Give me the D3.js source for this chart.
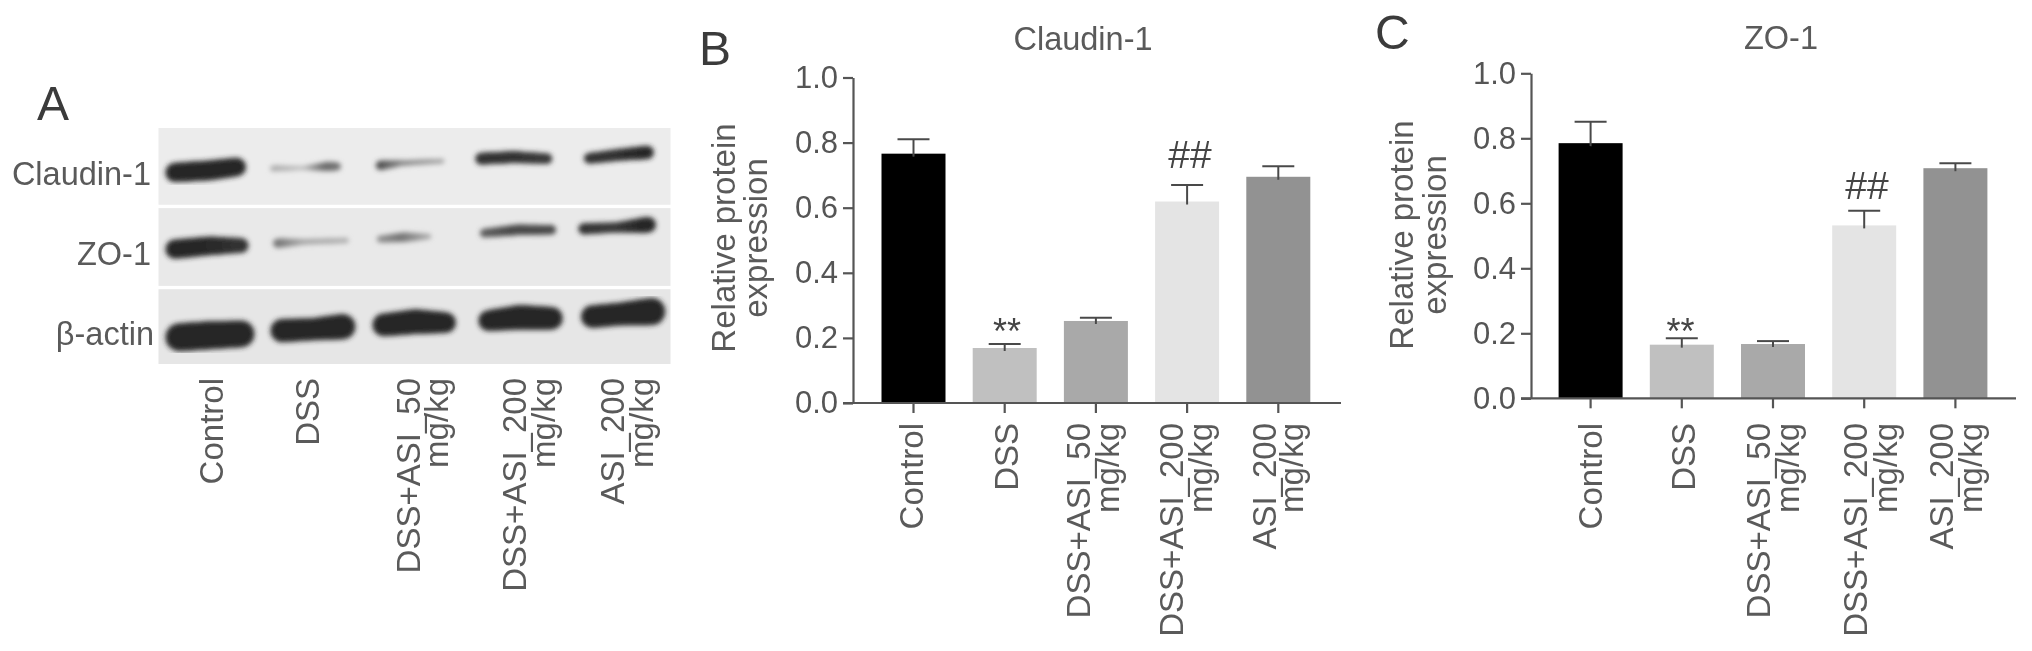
<!DOCTYPE html>
<html><head><meta charset="utf-8">
<script src="https://cdn.jsdelivr.net/npm/d3@7/dist/d3.min.js"></script>
<style>
html,body{margin:0;padding:0;background:#fff}
svg{display:block}
text{font-family:"Liberation Sans",Arial,sans-serif;fill:#5a5a5a}
</style></head><body><svg id="c" width="2032" height="651"></svg>
<script>
const categories=["Control","DSS","DSS+ASI_50|mg/kg","DSS+ASI_200|mg/kg","ASI_200|mg/kg"];
const barColors=["#000000","#c0c0c0","#a9a9a9","#e4e4e4","#929292"];
const yTicks=[0,0.2,0.4,0.6,0.8,1.0];
const claudinValues=[0.766,0.169,0.252,0.619,0.695];
const claudinUpper=[0.810,0.181,0.262,0.670,0.727];
const zoValues=[0.785,0.165,0.167,0.532,0.708];
const zoUpper=[0.851,0.185,0.176,0.577,0.723];
const claudinMarks=[null,"**",null,"##",null];
const zoMarks=[null,"**",null,"##",null];
const blotRows=["Claudin-1","ZO-1","β-actin"];
// blot bands: [lane position, row position, thickness, density]
const claudinBands=[
 [[392,338,58,.97],[470,332,60,.97],[530,322,56,.97]],
 [[612,326,18,.3],[680,325,10,.22],[735,320,28,.62],[755,320,22,.6]],
 [[852,317,28,.8],[900,310,16,.5],[990,304,14,.33]],
 [[1078,297,36,.92],[1150,292,36,.92],[1225,297,32,.88]],
 [[1320,296,32,.92],[1390,285,36,.92],[1450,278,40,.97]]];
const zoBands=[
 [[392,568,58,.97],[470,558,56,.97],[540,557,44,.92]],
 [[622,550,28,.6],[680,546,16,.33],[775,542,16,.28]],
 [[852,538,20,.42],[905,532,28,.58],[960,530,14,.33]],
 [[1085,520,26,.68],[1160,510,32,.8],[1235,510,28,.8]],
 [[1308,507,34,.92],[1380,503,30,.87],[1452,495,48,.97]]];
const actinBands=[
 [[402,832,84,.97],[470,826,84,.97],[540,822,80,.97]],
 [[632,812,70,.97],[700,808,66,.97],[768,800,76,.97]],
 [[860,795,68,.97],[930,785,74,.97],[998,788,62,.97]],
 [[1095,782,62,.97],[1165,772,74,.97],[1235,775,68,.97]],
 [[1327,770,68,.97],[1390,762,68,.97],[1460,755,82,.97]]];

const svg=d3.select("#c");
const defs=svg.append("defs");
defs.append("filter").attr("id","soft").attr("x","-2%").attr("y","-2%").attr("width","104%").attr("height","104%")
  .append("feGaussianBlur").attr("stdDeviation",0.65);
defs.append("filter").attr("id","bandblur").attr("x","-20%").attr("y","-60%").attr("width","140%").attr("height","220%")
  .append("feGaussianBlur").attr("stdDeviation",2.6);
const root=svg.append("g").attr("filter","url(#soft)");
root.append("rect").attr("width",2032).attr("height",651).attr("fill","#fff");
const INK="#555";

/* Panel A */
function panelLabel(t,x,y){root.append("text").attr("x",x).attr("y",y).attr("font-size",48).text(t).style("fill","#3a3a3a");}
panelLabel("A",37,120);panelLabel("B",699,65);panelLabel("C",1375,49);

const gx=d3.scaleLinear().domain([355,1502]).range([158.5,670.5]);
const gy=d3.scaleLinear().domain([205,912]).range([128,364]);
const rowSpans=[[205,435,"#ececec"],[445,678,"#e9e9e9"],[688,912,"#e6e6e6"]];
const rowBands=[claudinBands,zoBands,actinBands];
const rowBase=[185,265,345], rowRight=[151,151,154];
const bandG=root.append("g");
rowSpans.forEach((s,i)=>{
  bandG.append("rect").attr("x",gx(355)).attr("width",gx(1502)-gx(355))
    .attr("y",gy(s[0])).attr("height",gy(s[1])-gy(s[0])).attr("fill",s[2]);
  const g=bandG.append("g").attr("filter","url(#bandblur)");
  rowBands[i].forEach(b=>{
    d3.pairs(b).forEach(([p,q])=>{
      const n=8;
      d3.range(n).forEach(k=>{
        const t0=k/n,t1=(k+1)/n,tm=(t0+t1)/2;
        const th=(p[2]+(q[2]-p[2])*tm)/3, den=p[3]+(q[3]-p[3])*tm;
        const v=228-den*195;
        g.append("line")
          .attr("x1",gx(p[0]+(q[0]-p[0])*t0)).attr("x2",gx(p[0]+(q[0]-p[0])*t1))
          .attr("y1",gy(p[1]+(q[1]-p[1])*t0)).attr("y2",gy(p[1]+(q[1]-p[1])*t1))
          .attr("stroke",d3.rgb(v,v,v))
          .attr("stroke-width",th).attr("stroke-linecap","round");
      });
    });
  });
  root.append("text").attr("x",rowRight[i]).attr("y",rowBase[i]).attr("text-anchor","end")
    .attr("font-size",32.5).text(blotRows[i]);
});

function xLabels(parent,baselines,top,fs){
  categories.forEach((c,i)=>{
    c.split("|").forEach((ln,j)=>{
      parent.append("text").attr("transform",`translate(${baselines[i][j]},${top}) rotate(-90)`)
        .attr("text-anchor","end").attr("font-size",fs).text(ln);
    });
  });
}
xLabels(root,[[223],[318.6],[420,448],[526,555],[624,653]],378,33);

/* Bar panels */
function barPanel(o){
  const g=root.append("g");
  const step=o.step;
  const x=d3.scaleBand().domain(categories).range([o.c0-step/2,o.c0-step/2+step*5]).paddingInner(1-64/step).paddingOuter((1-64/step)/2);
  const y=d3.scaleLinear().domain([0,1]).range([o.y0,o.y1]);
  g.selectAll("rect.bar").data(categories).join("rect").attr("class","bar")
    .attr("x",d=>x(d)).attr("width",x.bandwidth())
    .attr("y",(d,i)=>y(o.values[i])).attr("height",(d,i)=>o.y0-y(o.values[i]))
    .attr("fill",(d,i)=>barColors[i]);
  const cx=d=>x(d)+x.bandwidth()/2;
  const eb=g.selectAll("g.err").data(categories).join("g").attr("class","err").attr("stroke","#4a4a4a").attr("stroke-width",2);
  eb.append("line").attr("x1",cx).attr("x2",cx).attr("y1",(d,i)=>y(o.upper[i])).attr("y2",(d,i)=>y(o.values[i])+3);
  eb.append("line").attr("x1",d=>cx(d)-16).attr("x2",d=>cx(d)+16).attr("y1",(d,i)=>y(o.upper[i])).attr("y2",(d,i)=>y(o.upper[i]));
  const ya=g.append("g").attr("transform",`translate(${o.axisX},0)`)
    .call(d3.axisLeft(y).tickValues(yTicks).tickFormat(d3.format(".1f")).tickSize(10).tickPadding(5).tickSizeOuter(0));
  ya.select(".domain").attr("stroke",INK).attr("stroke-width",2.2);
  ya.selectAll(".tick line").attr("stroke",INK).attr("stroke-width",2.2);
  ya.selectAll("text").attr("font-size",31).attr("font-family",null).style("fill",INK);
  const xa=g.append("g").attr("transform",`translate(0,${o.y0})`)
    .call(d3.axisBottom(x).tickSize(10).tickFormat("").tickSizeOuter(0));
  xa.select(".domain").attr("d",`M${o.axisX-10},0H${o.axisEnd}`).attr("stroke",INK).attr("stroke-width",2.2);
  xa.selectAll(".tick line").attr("stroke",INK).attr("stroke-width",2.2);
  xLabels(g,o.labelX,o.labelTop,33);
  g.append("text").attr("x",o.titleX).attr("y",o.titleY).attr("text-anchor","middle").attr("font-size",32.5).text(o.title);
  ["Relative protein","expression"].forEach((t,i)=>{
    g.append("text").attr("transform",`translate(${o.ytX[i]},${o.ytY}) rotate(-90)`)
      .attr("text-anchor","middle").attr("font-size",33).text(t);
  });
  o.marks.forEach((m,i)=>{
    if(!m)return;
    g.append("text").attr("x",o.markX[i]).attr("y",o.markY[i]).attr("text-anchor","middle")
      .attr("font-size",m==="**"?36:39).style("fill","#444").text(m);
  });
}
barPanel({c0:913.5,step:91.2,axisX:853,axisEnd:1341,y0:403,y1:77.5,values:claudinValues,upper:claudinUpper,
  labelX:[[923],[1018],[1090,1119],[1183,1212],[1276,1303]],labelTop:423,
  title:"Claudin-1",titleX:1083,titleY:50,ytX:[735,767],ytY:238,
  marks:claudinMarks,markX:[0,1007,0,1190,0],markY:[0,344,0,168,0]});
barPanel({c0:1590.6,step:91.2,axisX:1531,axisEnd:2016,y0:398.3,y1:73.3,values:zoValues,upper:zoUpper,
  labelX:[[1602],[1695],[1770,1799],[1867,1897],[1953,1982]],labelTop:423,
  title:"ZO-1",titleX:1781,titleY:49,ytX:[1413,1446],ytY:235,
  marks:zoMarks,markX:[0,1680.6,0,1867,0],markY:[0,344,0,199,0]});
</script></body></html>
